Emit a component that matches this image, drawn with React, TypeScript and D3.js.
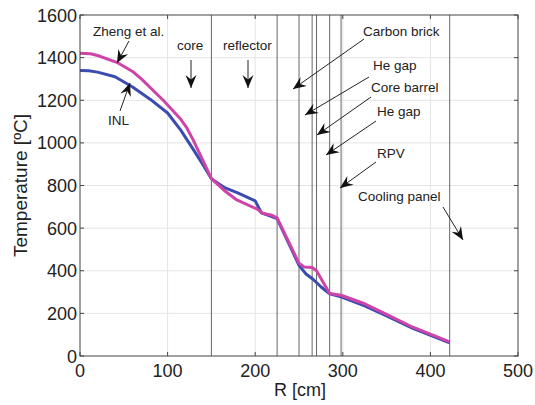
import React from "react";
import * as d3 from "d3";

const R_INL = [0, 10, 20, 40, 60, 80, 100, 115, 130, 140, 150, 165, 180, 200, 207, 215, 225, 250, 258, 266, 275, 285, 298, 325, 350, 380, 422];
const T_INL = [1340, 1338, 1332, 1310, 1262, 1205, 1140, 1060, 965, 900, 832, 790, 765, 728, 672, 660, 645, 425, 385, 360, 325, 292, 278, 235, 188, 130, 62];

const R_ZHENG = [0, 12, 20, 42, 60, 70, 95, 114, 122, 129, 140, 150, 164, 179, 202, 208, 218, 225, 250, 256, 265, 270, 285, 298, 325, 350, 380, 422];
const T_ZHENG = [1420, 1418, 1410, 1378, 1335, 1300, 1200, 1116, 1070, 1015, 920, 832, 779, 732, 690, 670, 662, 648, 435, 418, 415, 400, 293, 285, 245, 195, 135, 66];

const REGION_BOUNDS = [150, 225, 250, 265, 270, 285, 298, 422];
const X_TICKS = [0, 100, 200, 300, 400, 500];
const Y_TICKS = [0, 200, 400, 600, 800, 1000, 1200, 1400, 1600];

// annotations: text, text anchor point (px), arrow start, arrow tip (px)
const ANNOTATIONS = [
  { text: "Zheng et al.", tx: 93, ty: 36, x1: 129, y1: 41, x2: 117, y2: 63 },
  { text: "core", tx: 177, ty: 50, x1: 191, y1: 60, x2: 191, y2: 88 },
  { text: "reflector", tx: 223, ty: 50, x1: 248, y1: 60, x2: 248, y2: 88 },
  { text: "INL", tx: 108, ty: 125, x1: 120, y1: 111, x2: 130, y2: 83 },
  { text: "Carbon brick", tx: 363, ty: 36, x1: 364, y1: 39, x2: 293, y2: 89 },
  { text: "He gap", tx: 373, ty: 70, x1: 369, y1: 77, x2: 305, y2: 115 },
  { text: "Core barrel", tx: 371, ty: 92, x1: 371, y1: 97, x2: 317, y2: 135 },
  { text: "He gap", tx: 377, ty: 116, x1: 376, y1: 121, x2: 326, y2: 155 },
  { text: "RPV", tx: 377, ty: 158, x1: 376, y1: 162, x2: 340, y2: 188 },
  { text: "Cooling panel", tx: 358, ty: 201, x1: 443, y1: 207, x2: 463, y2: 240 },
];

const W = 535, H = 405;
const M = { left: 80, right: 518, top: 15, bottom: 356 };

function arrowHead(x1: number, y1: number, x2: number, y2: number) {
  const dx = x2 - x1, dy = y2 - y1;
  const len = Math.sqrt(dx * dx + dy * dy);
  const ux = dx / len, uy = dy / len;
  const px = -uy, py = ux;
  const L = 13, Wd = 5.5, notch = 8.5;
  const bx = x2 - ux * L, by = y2 - uy * L;
  const nx = x2 - ux * notch, ny = y2 - uy * notch;
  return `${x2},${y2} ${bx + px * Wd},${by + py * Wd} ${nx},${ny} ${bx - px * Wd},${by - py * Wd}`;
}

export default function App() {
  const x = d3.scaleLinear().domain([0, 500]).range([M.left, M.right]);
  const y = d3.scaleLinear().domain([0, 1600]).range([M.bottom, M.top]);
  const line = d3.line<[number, number]>().x((d) => x(d[0])).y((d) => y(d[1]));
  const inl = line(R_INL.map((r, i) => [r, T_INL[i]]) as [number, number][]) || "";
  const zheng = line(R_ZHENG.map((r, i) => [r, T_ZHENG[i]]) as [number, number][]) || "";
  const font = "Arial, 'Liberation Sans', Helvetica, sans-serif";
  return (
    <svg width={W} height={H} style={{ position: "absolute", left: 0, top: 0, background: "#fff" }} fontFamily={font}>
      {/* grid */}
      {X_TICKS.slice(1, -1).map((t) => (
        <line key={"gx" + t} x1={x(t)} x2={x(t)} y1={M.top} y2={M.bottom} stroke="#e4e4e4" strokeWidth={1} />
      ))}
      {Y_TICKS.slice(1, -1).map((t) => (
        <line key={"gy" + t} x1={M.left} x2={M.right} y1={y(t)} y2={y(t)} stroke="#e4e4e4" strokeWidth={1} />
      ))}
      {/* region boundaries */}
      {REGION_BOUNDS.map((b) => (
        <line key={"b" + b} x1={x(b)} x2={x(b)} y1={M.top} y2={M.bottom} stroke="#666" strokeWidth={1} />
      ))}
      {/* curves */}
      <path d={inl} fill="none" stroke="#3a4cb0" strokeWidth={3} strokeLinejoin="round" />
      <path d={zheng} fill="none" stroke="#cf44a8" strokeWidth={3} strokeLinejoin="round" />
      {/* axes box */}
      <rect x={M.left} y={M.top} width={M.right - M.left} height={M.bottom - M.top} fill="none" stroke="#444" strokeWidth={1} />
      {X_TICKS.map((t) => (
        <g key={"xt" + t}>
          <line x1={x(t)} x2={x(t)} y1={M.bottom} y2={M.bottom - 4} stroke="#444" />
          <line x1={x(t)} x2={x(t)} y1={M.top} y2={M.top + 4} stroke="#444" />
          <text x={x(t)} y={377} textAnchor="middle" fontSize={18} fill="#222">{t}</text>
        </g>
      ))}
      {Y_TICKS.map((t) => (
        <g key={"yt" + t}>
          <line x1={M.left} x2={M.left + 4} y1={y(t)} y2={y(t)} stroke="#444" />
          <line x1={M.right} x2={M.right - 4} y1={y(t)} y2={y(t)} stroke="#444" />
          <text x={77} y={y(t) + 6.5} textAnchor="end" fontSize={18} fill="#222">{t}</text>
        </g>
      ))}
      <text x={300} y={396} textAnchor="middle" fontSize={18} fill="#222">R [cm]</text>
      <text transform={`translate(27,${(M.top + M.bottom) / 2}) rotate(-90)`} textAnchor="middle" fontSize={19} fill="#222">Temperature [ºC]</text>
      {/* annotations */}
      {ANNOTATIONS.map((a, i) => (
        <g key={"a" + i}>
          <text x={a.tx} y={a.ty} fontSize={13.5} fill="#222">{a.text}</text>
          <line x1={a.x1} y1={a.y1} x2={a.x2} y2={a.y2} stroke="#222" strokeWidth={1} />
          <polygon points={arrowHead(a.x1, a.y1, a.x2, a.y2)} fill="#111" />
        </g>
      ))}
    </svg>
  );
}
